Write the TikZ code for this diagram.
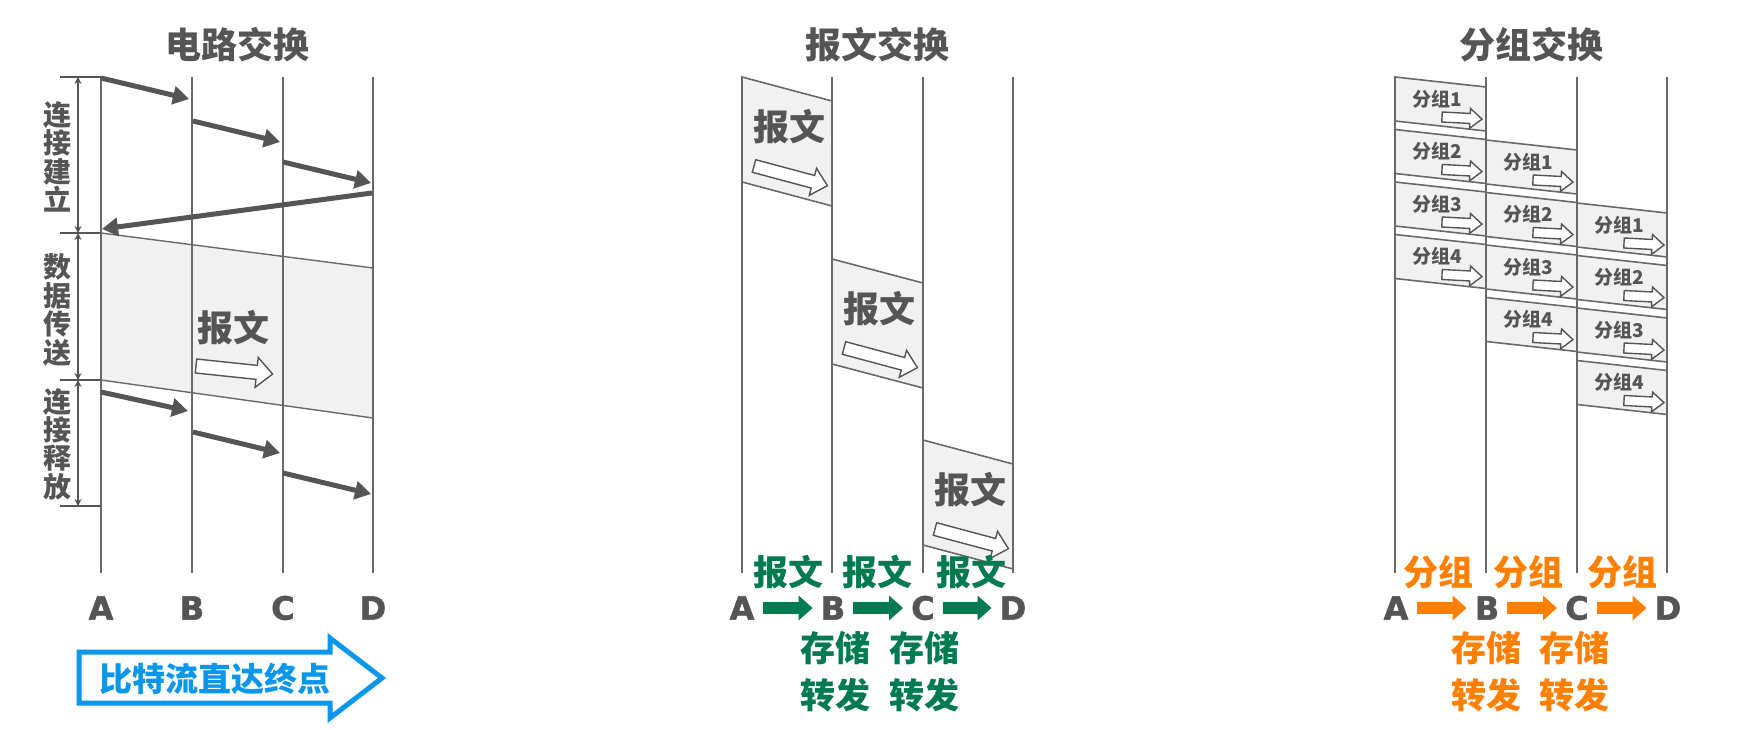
\documentclass[tikz,border=0pt]{standalone}
\usepackage{fontspec}
\newfontfamily\cjk{Noto Sans CJK SC}
\newfontfamily\lat{DejaVu Sans}[BoldFeatures={FakeBold=1.6}]
\usetikzlibrary{arrows.meta}
\definecolor{dg}{RGB}{85,85,85}
\definecolor{lg}{RGB}{105,105,105}
\definecolor{boxfill}{RGB}{241,241,241}
\definecolor{grn}{RGB}{0,122,80}
\definecolor{org}{RGB}{255,127,0}
\definecolor{blu}{RGB}{10,150,235}
% hollow arrow: start x, start y, angle, length, shaft width, head width, head length
\newcommand{\holarr}[7]{\draw[hol, shift={(#1,#2)}, rotate=#3]
  (0,{-(#5)/2}) -- ({#4-#7},{-(#5)/2}) -- ({#4-#7},{-(#6)/2}) -- (#4,0) --
  ({#4-#7},{(#6)/2}) -- ({#4-#7},{(#5)/2}) -- (0,{(#5)/2}) -- cycle;}
\begin{document}
\begin{tikzpicture}[x=1pt,y=-1pt,
  title/.style={font=\cjk\bfseries\fontsize{36}{36}\selectfont, text=dg, inner sep=0pt},
  bigtxt/.style={font=\cjk\bfseries\fontsize{36}{36}\selectfont, text=dg, inner sep=0pt},
  vlab/.style={font=\cjk\bfseries\fontsize{28}{28.4}\selectfont, text=dg, align=center, inner sep=0pt},
  letter/.style={font=\lat\bfseries\fontsize{32}{32}\selectfont, text=dg, inner sep=0pt},
  gtxt/.style={font=\cjk\bfseries\fontsize{35}{35}\selectfont, text=grn, inner sep=0pt},
  otxt/.style={font=\cjk\bfseries\fontsize{35}{35}\selectfont, text=org, inner sep=0pt},
  ptxt/.style={font=\cjk\bfseries\fontsize{19}{19}\selectfont, text=dg, inner sep=0pt},
  btxt/.style={font=\cjk\bfseries\fontsize{33}{33}\selectfont, text=blu, inner sep=0pt},
  tline/.style={draw=lg, line width=1.8pt},
  band/.style={draw=lg, fill=boxfill, line width=1.4pt},
  pbox/.style={draw=lg, fill=boxfill, line width=1.6pt, line join=miter},
  hol/.style={draw=dg, fill=white, line width=1.4pt, line join=miter},
  sarr/.style={draw=dg, line width=5pt, -{Triangle[length=16pt,width=18pt]}},
  brk/.style={draw=dg, line width=1.6pt},
  brkarr/.style={draw=dg, line width=1.3pt, {Stealth[length=7pt,width=7pt]}-{Stealth[length=7pt,width=7pt]}},
  garr/.style={draw=grn, line width=12pt, -{Triangle[length=14pt,width=24pt]}, shorten <=8pt, shorten >=8pt},
  oarr/.style={draw=org, line width=12pt, -{Triangle[length=14pt,width=24pt]}, shorten <=8pt, shorten >=8pt},
  bluearr/.style={draw=blu, fill=white, line width=5pt, line join=miter}
]
\useasboundingbox (0,0) rectangle (1742,730);
\fill[white] (0,0) rectangle (1742,730);

% ================= circuit switching =================
\node[title] (t1) at (237,45) {电路交换};
\draw[band] (101,233) -- (373,268) -- (373,418) -- (101,380) -- cycle;
\foreach \n/\x in {A/101,B/192,C/283,D/373} {
  \coordinate (L\n t) at (\x,77);
  \coordinate (L\n b) at (\x,573);
  \draw[tline] (L\n t) -- (L\n b);
  \node[letter] (L\n) at (\x,608) {\n};
}
% bracket
\foreach \y [count=\i] in {77,233,380,506} {
  \coordinate (bk\i) at (60,\y);
  \coordinate (bke\i) at (101,\y);
  \draw[brk] (bk\i) -- (bke\i);
  \coordinate (bv\i) at (78,\y);
}
\draw[brkarr] (bv1) -- (bv2);
\draw[brkarr] (bv2) -- (bv3);
\draw[brkarr] (bv3) -- (bv4);
\node[vlab] (v1) at (57,157) {连\\接\\建\\立};
\node[vlab] (v2) at (57,310) {数\\据\\传\\送};
\node[vlab] (v3) at (57,444) {连\\接\\释\\放};
% setup arrows
\coordinate (a1s) at (101,78);  \coordinate (a1e) at (189,99);
\coordinate (a2s) at (193,121); \coordinate (a2e) at (280,142);
\coordinate (a3s) at (283,162); \coordinate (a3e) at (371,183);
\coordinate (a4s) at (372,193); \coordinate (a4e) at (102,229);
\draw[sarr] (a1s) -- (a1e);
\draw[sarr] (a2s) -- (a2e);
\draw[sarr] (a3s) -- (a3e);
\draw[sarr] (a4s) -- (a4e);
% release arrows
\coordinate (r1s) at (101,392); \coordinate (r1e) at (188,411);
\coordinate (r2s) at (193,432); \coordinate (r2e) at (280,453);
\coordinate (r3s) at (283,473); \coordinate (r3e) at (371,494);
\draw[sarr] (r1s) -- (r1e);
\draw[sarr] (r2s) -- (r2e);
\draw[sarr] (r3s) -- (r3e);
% band content
\node[bigtxt] (bandtxt) at (233,328) {报文};
\holarr{196}{366}{-6}{77}{14}{30}{16}
% blue arrow
\draw[bluearr] (79,652) -- (330,652) -- (330,638) -- (382,678) -- (330,718) -- (330,703) -- (79,703) -- cycle;
\node[btxt] (bt) at (215,679) {比特流直达终点};

% ================= message switching =================
\node[title] (t2) at (877,45) {报文交换};
\foreach \n/\x in {A/742,B/832,C/923,D/1013} {
  \coordinate (M\n t) at (\x,77);
  \coordinate (M\n b) at (\x,573);
  \draw[tline] (M\n t) -- (M\n b);
}
\foreach \i/\x/\xx/\y in {1/742/832/77, 2/832/923/259, 3/923/1013/440} {
  \draw[pbox] (\x,\y) -- (\xx,\y+24) -- (\xx,\y+129) -- (\x,\y+105) -- cycle;
  \node[bigtxt] (m\i) at (\x+47,\y+50) {报文};
  \holarr{\x+12}{\y+89}{-15}{76}{13}{28}{15}
}
\node[gtxt] (g1) at (788,572) {报文};
\node[gtxt] (g2) at (877,572) {报文};
\node[gtxt] (g3) at (971,572) {报文};
\node[letter] (MA) at (742,608) {A};
\node[letter] (MB) at (833,608) {B};
\node[letter] (MC) at (923,608) {C};
\node[letter] (MD) at (1013,608) {D};
\draw[garr] (MA.east) -- (MB.west);
\draw[garr] (MB.east) -- (MC.west);
\draw[garr] (MC.east) -- (MD.west);
\node[gtxt] (gs1) at (835,648) {存储};
\node[gtxt] (gs2) at (924,648) {存储};
\node[gtxt] (gf1) at (835,695) {转发};
\node[gtxt] (gf2) at (924,695) {转发};

% ================= packet switching =================
\node[title] (t3) at (1531,45) {分组交换};
\foreach \n/\x in {A/1395,B/1486,C/1577,D/1667} {
  \coordinate (P\n t) at (\x,77);
  \coordinate (P\n b) at (\x,573);
  \draw[tline] (P\n t) -- (P\n b);
}
\foreach \c/\x/\xx/\t in {0/1395/1486/77, 1/1486/1577/140, 2/1577/1667/203} {
  \foreach \k in {1,...,4} {
    \pgfmathsetmacro\yy{\t+52.5*(\k-1)}
    \draw[pbox] (\x,\yy) -- (\xx,\yy+10) -- (\xx,\yy+54) -- (\x,\yy+44) -- cycle;
    \node[ptxt] (p\c\k) at (\x+42,\yy+22) {分组\k};
    \holarr{\x+47}{\yy+40}{-3}{40}{10}{20}{12}
  }
}
\node[otxt] (o1) at (1438,572) {分组};
\node[otxt] (o2) at (1528,572) {分组};
\node[otxt] (o3) at (1622,572) {分组};
\node[letter] (PA) at (1396,608) {A};
\node[letter] (PB) at (1487,608) {B};
\node[letter] (PC) at (1577,608) {C};
\node[letter] (PD) at (1668,608) {D};
\draw[oarr] (PA.east) -- (PB.west);
\draw[oarr] (PB.east) -- (PC.west);
\draw[oarr] (PC.east) -- (PD.west);
\node[otxt] (os1) at (1486,648) {存储};
\node[otxt] (os2) at (1574,648) {存储};
\node[otxt] (of1) at (1486,695) {转发};
\node[otxt] (of2) at (1574,695) {转发};
\end{tikzpicture}
\end{document}
